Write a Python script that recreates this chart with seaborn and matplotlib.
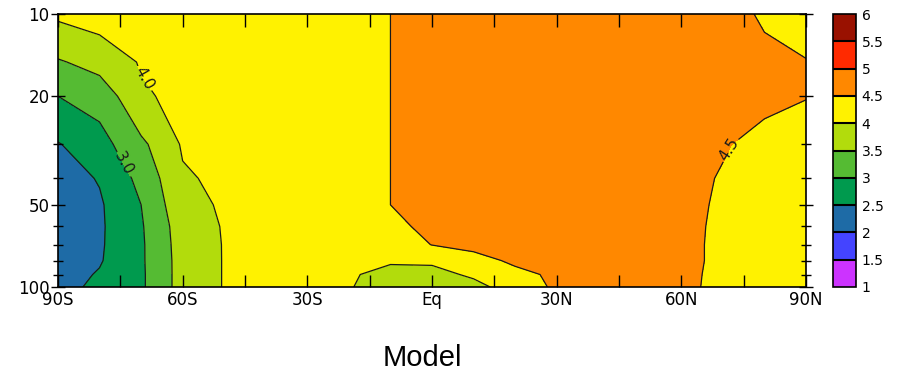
import numpy as np
import matplotlib
matplotlib.use("Agg")
import matplotlib.pyplot as plt
import seaborn as sns

# ---------------- data ----------------
lats = [-90, -80, -70, -60, -50, -40, -30, -20, -10, 0,
        10, 20, 30, 40, 50, 60, 70, 80, 90]
pressures = [10, 15, 20, 30, 40, 50, 60, 70, 80, 90, 100]

row_p10 = [4.08, 4.20, 4.28, 4.32, 4.35, 4.38, 4.40, 4.42, 4.50, 4.70, 4.80, 4.85, 4.86, 4.86, 4.84, 4.78, 4.65, 4.45, 4.30]
row_p15 = [3.45, 3.68, 4.04, 4.18, 4.27, 4.33, 4.37, 4.40, 4.50, 4.68, 4.78, 4.82, 4.83, 4.83, 4.80, 4.75, 4.68, 4.60, 4.52]
row_p20 = [3.00, 3.18, 3.92, 4.15, 4.23, 4.30, 4.35, 4.38, 4.50, 4.68, 4.78, 4.82, 4.83, 4.82, 4.78, 4.72, 4.65, 4.58, 4.51]
row_p30 = [2.47, 2.81, 3.39, 4.05, 4.17, 4.25, 4.30, 4.35, 4.50, 4.68, 4.78, 4.82, 4.82, 4.80, 4.75, 4.65, 4.53, 4.39, 4.35]
row_p40 = [2.30, 2.53, 3.14, 3.94, 4.10, 4.20, 4.27, 4.33, 4.50, 4.67, 4.77, 4.80, 4.80, 4.78, 4.72, 4.62, 4.47, 4.35, 4.32]
row_p50 = [2.20, 2.44, 3.00, 3.86, 4.05, 4.15, 4.22, 4.30, 4.50, 4.65, 4.75, 4.78, 4.78, 4.76, 4.70, 4.62, 4.44, 4.33, 4.30]
row_p60 = [2.18, 2.43, 2.95, 3.75, 4.03, 4.12, 4.18, 4.25, 4.40, 4.60, 4.72, 4.76, 4.77, 4.75, 4.70, 4.60, 4.43, 4.33, 4.30]
row_p70 = [2.20, 2.44, 2.93, 3.72, 4.02, 4.10, 4.14, 4.16, 4.22, 4.51, 4.65, 4.72, 4.74, 4.73, 4.68, 4.60, 4.42, 4.33, 4.30]
row_p80 = [2.25, 2.46, 2.93, 3.70, 4.02, 4.08, 4.10, 4.07, 4.03, 4.05, 4.30, 4.60, 4.70, 4.72, 4.67, 4.60, 4.42, 4.33, 4.30]
row_p90 = [2.30, 2.54, 2.92, 3.70, 4.02, 4.08, 4.08, 4.03, 3.92, 3.90, 4.05, 4.35, 4.60, 4.68, 4.65, 4.58, 4.42, 4.33, 4.30]
row_p100 = [2.35, 2.60, 2.92, 3.70, 4.02, 4.08, 4.07, 4.02, 3.85, 3.80, 3.90, 4.15, 4.60, 4.65, 4.63, 4.57, 4.42, 4.33, 4.30]

levels = [1.0, 1.5, 2.0, 2.5, 3.0, 3.5, 4.0, 4.5, 5.0, 5.5, 6.0]
level_labels = ['1', '1.5', '2', '2.5', '3', '3.5', '4', '4.5', '5', '5.5', '6']
band_colors = ['#CC33FF', '#4444FF', '#1E6BA6', '#009A4E', '#55BB33',
               '#B2DC0C', '#FFF200', '#FF8800', '#FF2A00', '#991100']

x_major = [-90, -60, -30, 0, 30, 60, 90]
x_labels = ['90S', '60S', '30S', 'Eq', '30N', '60N', '90N']
x_minor = [-75, -45, -15, 15, 45, 75]
y_major = [10, 20, 50, 100]
y_labels = ['10', '20', '50', '100']
y_minor = [30, 40, 60, 70, 80, 90]

labelled_levels = [3.0, 4.0, 4.5]
label_spots = [(-73.5, 35), (-70, 17.5), (71, 31)]
title_text = 'Model'

# ---------------- plot ----------------
sns.set_theme(style="ticks")
plt.rcParams['font.family'] = ['DejaVu Sans']
plt.rcParams['text.color'] = 'black'
plt.rcParams['axes.axisbelow'] = False

fig = plt.figure(figsize=(9.03, 3.74), dpi=100)
W, H = 903.0, 374.0
ax = fig.add_axes([58 / W, 1 - 287 / H, 748 / W, 273 / H])
cax = fig.add_axes([833 / W, 1 - 287 / H, 23 / W, 273 / H])
ax.set_axisbelow(False)

Z = np.array([row_p10, row_p15, row_p20, row_p30, row_p40, row_p50,
              row_p60, row_p70, row_p80, row_p90, row_p100])
X, Y = np.meshgrid(lats, pressures)

ax.set_yscale('log')
ax.set_xlim(-90, 90)
ax.set_ylim(100, 10)

palette = sns.color_palette(band_colors)
cf = ax.contourf(X, Y, Z, levels=levels, colors=palette)
other_levels = [lv for lv in levels if lv not in labelled_levels]
ax.contour(X, Y, Z, levels=other_levels, colors='k', linewidths=0.9)
cs_lab = ax.contour(X, Y, Z, levels=labelled_levels, colors='k', linewidths=0.9)
ax.clabel(cs_lab, manual=label_spots, fmt='%.1f',
          fontsize=11, inline=True, inline_spacing=2)

ax.set_xticks(x_major)
ax.set_xticklabels(x_labels)
ax.set_xticks(x_minor, minor=True)
ax.set_yticks(y_major)
ax.set_yticklabels(y_labels)
ax.set_yticks(y_minor, minor=True)
ax.set_yticklabels([], minor=True)

ax.tick_params(axis='x', which='both', direction='in', length=9, width=1,
               top=True, bottom=True, colors='black', labelsize=12, pad=3)
ax.tick_params(axis='y', which='major', direction='inout', length=10, width=1,
               left=True, right=True, colors='black', labelsize=12, pad=1)
ax.tick_params(axis='y', which='minor', direction='inout', length=7, width=1,
               left=True, right=True, colors='black')
for sp in ax.spines.values():
    sp.set_visible(True)
    sp.set_color('black')
    sp.set_linewidth(1.2)
    sp.set_zorder(5)
ax.grid(False)

cb = fig.colorbar(cf, cax=cax, ticks=levels, drawedges=True)
cb.ax.set_yticklabels(level_labels)
cb.ax.tick_params(length=0, labelsize=10, pad=4, colors='black')
cb.outline.set_edgecolor('black')
cb.outline.set_linewidth(1.2)
cb.dividers.set_color('black')
cb.dividers.set_linewidth(1.5)

fig.text(422 / W, 8 / H, title_text, ha='center', va='baseline', color='black',
         fontsize=21, family=['Liberation Sans', 'DejaVu Sans'])

fig.savefig('out.png', dpi=100)
